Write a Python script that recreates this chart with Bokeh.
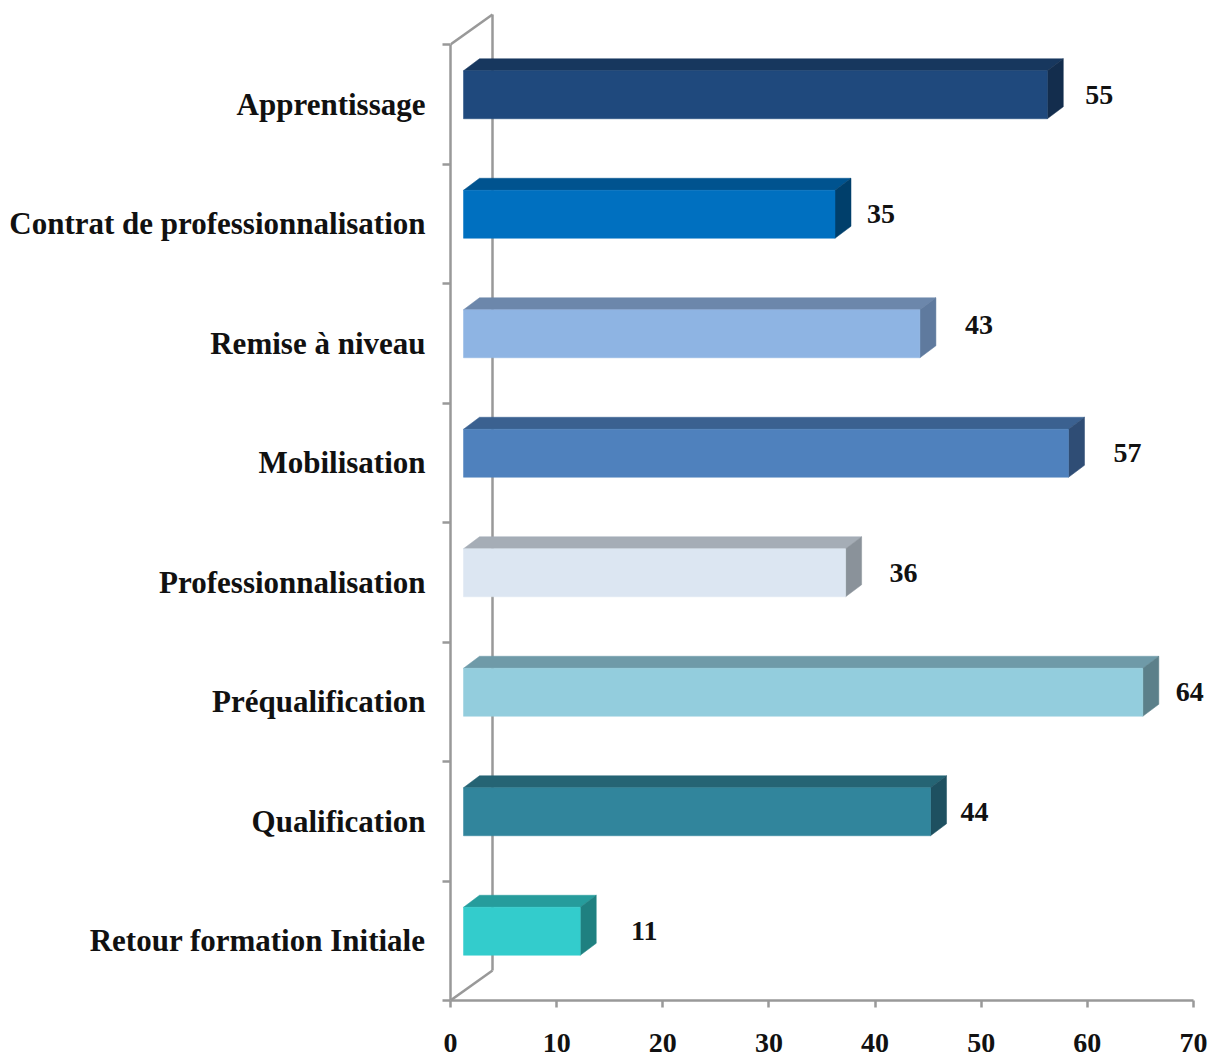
from bokeh.plotting import figure
from bokeh.models import ColumnDataSource, FixedTicker, LinearAxis, Range1d
from bokeh.core.properties import value
from bokeh.embed import file_html
from bokeh.resources import INLINE

categories = ["Retour formation Initiale", "Qualification", "Préqualification",
              "Professionnalisation", "Mobilisation", "Remise à niveau",
              "Contrat de professionnalisation", "Apprentissage"]
values = [11, 44, 64, 36, 57, 43, 35, 55]
front_colors = ["#33CCCC", "#31859C", "#93CDDD", "#DCE6F2", "#4F81BD", "#8EB4E3", "#0070C0", "#1F497D"]
top_colors = ["#269C9C", "#256474", "#6F9AA8", "#A5ADB6", "#3B6190", "#6C87AB", "#00538F", "#17375E"]
side_colors = ["#1F8080", "#1E5060", "#5C808A", "#8A929A", "#2F4D75", "#5F7A9E", "#003F6B", "#132D4D"]
label_gaps = [64, 44, 47, 58, 59, 59, 46, 52]
label_lifts = [0, 0, 0, 0, 0, 9, 0, 0]

FONT = "Liberation Serif"
GREY = "#999999"
PX_X = 743 / 70
PX_Y = 956 / 8
FRAME_W, FRAME_H = 758, 1000

off = 13 / PX_X
depth_x, depth_y = 16 / PX_X, 12 / PX_Y
half = 24 / PX_Y
shift = 9.5 / PX_Y
wall_x, wall_y = 42 / PX_X, 30 / PX_Y

n = len(categories)
y_mid = [i + 0.5 + shift for i in range(n)]
left = [off] * n
right = [off + v for v in values]
bottom = [y - half for y in y_mid]
top = [y + half for y in y_mid]

p = figure(width=1210, height=1056, output_backend="svg", toolbar_location=None,
           x_range=Range1d(0, FRAME_W / PX_X), y_range=Range1d(0, FRAME_H / PX_Y),
           frame_width=FRAME_W, frame_height=FRAME_H,
           min_border_left=450, min_border_right=2, min_border_top=0, min_border_bottom=56,
           x_axis_location=None, y_axis_location=None, outline_line_color=None)
p.grid.visible = False

xaxis = LinearAxis(ticker=FixedTicker(ticks=list(range(0, 71, 10))), bounds=(0, 70))
yaxis = LinearAxis(ticker=FixedTicker(ticks=[i + 0.5 for i in range(n)], minor_ticks=list(range(n + 1))),
                   bounds=(0, n))
yaxis.major_label_overrides = {i + 0.5: c for i, c in enumerate(categories)}
for ax in (xaxis, yaxis):
    ax.axis_line_color = GREY
    ax.axis_line_width = 2.5
    ax.major_label_text_font = FONT
    ax.major_label_text_font_style = "bold"
    ax.major_label_text_color = "#111111"
xaxis.major_label_text_font_size = "28px"
yaxis.major_label_text_font_size = "31px"
xaxis.major_tick_line_color = GREY
xaxis.major_tick_line_width = 2.5
xaxis.major_tick_out = 7
xaxis.major_tick_in = 0
xaxis.minor_tick_line_color = None
xaxis.major_label_standoff = 26
yaxis.major_tick_out = 0
yaxis.major_tick_in = 0
yaxis.major_tick_line_color = None
yaxis.minor_tick_line_color = GREY
yaxis.minor_tick_line_width = 2.5
yaxis.minor_tick_out = 8
yaxis.minor_tick_in = 0
yaxis.major_label_standoff = 17
p.add_layout(xaxis, "below")
p.add_layout(yaxis, "left")

# back wall of the 3D frame
p.segment([0, wall_x, 0], [0, wall_y, n], [wall_x, wall_x, wall_x], [wall_y, n + wall_y, n + wall_y],
          line_color=GREY, line_width=2.5)

p.patches([[l, r, r + depth_x, l + depth_x] for l, r in zip(left, right)],
          [[t, t, t + depth_y, t + depth_y] for t in top],
          fill_color=top_colors, line_color=top_colors, line_width=0.5)
p.patches([[r, r + depth_x, r + depth_x, r] for r in right],
          [[b, b + depth_y, t + depth_y, t] for b, t in zip(bottom, top)],
          fill_color=side_colors, line_color=side_colors, line_width=0.5)
p.quad(left=left, right=right, bottom=bottom, top=top, fill_color=front_colors, line_color=front_colors, line_width=0.5)

src = ColumnDataSource(dict(x=right, y=y_mid, t=[str(v) for v in values], dx=label_gaps,
                            dy=[-d for d in label_lifts]))
p.text("x", "y", text="t", source=src, x_offset="dx", y_offset="dy", text_align="center", text_baseline="middle",
       text_font=value(FONT), text_font_style="bold", text_font_size="28px", text_color="#111111")

open("out.html", "w").write(file_html(p, INLINE))
